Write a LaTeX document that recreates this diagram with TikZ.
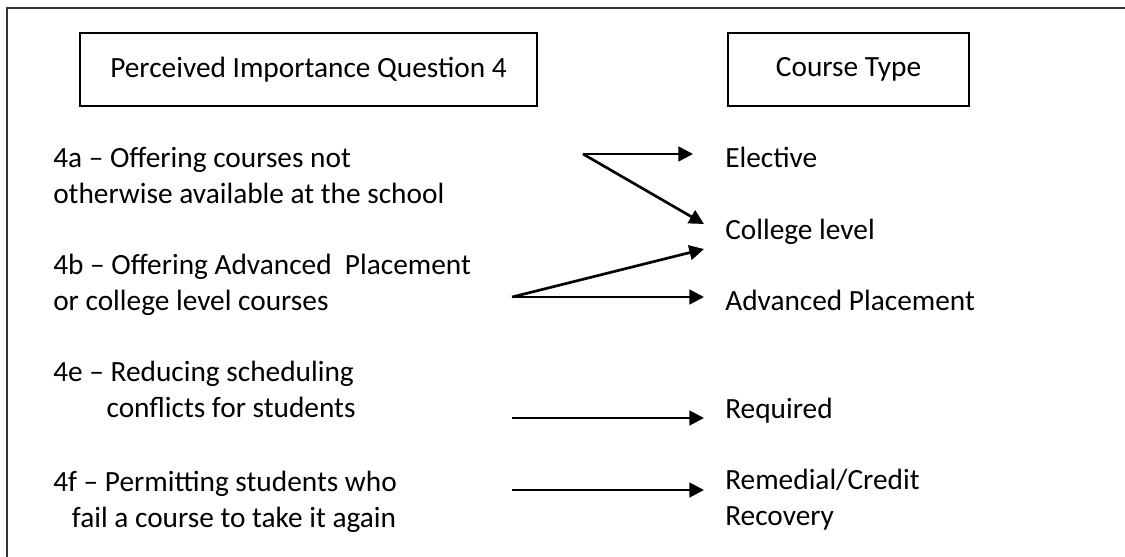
\documentclass[tikz,border=0pt]{standalone}
\usepackage{fontspec}
\setmainfont{Carlito}
\usetikzlibrary{arrows.meta}

\begin{document}
\begin{tikzpicture}[x=0.75pt,y=0.75pt,yscale=-1,xscale=1,
  every node/.style={font=\fontsize{22}{27}\selectfont},
  headbox/.style={draw,line width=1.6pt,inner sep=0pt,align=center},
  itemtext/.style={anchor=base west,inner sep=0pt,align=left},
  linkarrow/.style={line width=2pt,-{Triangle[length=11pt,width=11pt]}}]
\useasboundingbox (0,0) rectangle (1125,557);

%Shape: Frame (cut off right and bottom)
\draw [color=black!80,line width=1.5pt] (1130,8) -- (7,8) -- (7,565) ;

%Shape: Rectangle
\node [headbox,minimum width=342.75pt,minimum height=54.75pt] (qhead) at (308.5,69.5) {Perceived Importance Question 4};
%Shape: Rectangle
\node [headbox,minimum width=180.75pt,minimum height=54.75pt] (thead) at (848.5,69.5) {Course Type};

% Text Node (base = last line)
\node [itemtext] (q4a) at (53,203) {4a -- Offering courses not\\otherwise available at the school};
% Text Node
\node [itemtext] (q4b) at (53,310) {4b -- Offering Advanced\ \ Placement\\or college level courses};
% Text Node
\node [itemtext] (q4e) at (53,417) {4e -- Reducing scheduling\\\hspace*{40pt}conflicts for students};
% Text Node
\node [itemtext] (q4f) at (53,527) {4f -- Permitting students who\\\hspace*{14pt}fail a course to take it again};

% Text Node
\node [itemtext] (elec) at (725,167) {Elective};
% Text Node
\node [itemtext] (coll) at (725,239) {College level};
% Text Node
\node [itemtext] (ap) at (725,310) {Advanced Placement};
% Text Node
\node [itemtext] (req) at (725,418) {Required};
% Text Node
\node [itemtext] (rem) at (725,525) {Remedial/Credit\\Recovery};

%Straight Lines
\coordinate (from4a) at (583,154);
\coordinate (from4b) at (512,297);
\coordinate (from4e) at (512,418);
\coordinate (from4f) at (512,490);
\coordinate (toelec) at (693,154);
\coordinate (tocollA) at (704,224);
\coordinate (tocollB) at (704,249);
\coordinate (toap) at (704,297);
\coordinate (toreq) at (704,418);
\coordinate (torem) at (704,490);

\draw [linkarrow] (from4a) -- (toelec) ;
\draw [linkarrow] (from4a) -- (tocollA) ;
\draw [linkarrow] (from4b) -- (tocollB) ;
\draw [linkarrow] (from4b) -- (toap) ;
\draw [linkarrow] (from4e) -- (toreq) ;
\draw [linkarrow] (from4f) -- (torem) ;

\end{tikzpicture}
\end{document}
